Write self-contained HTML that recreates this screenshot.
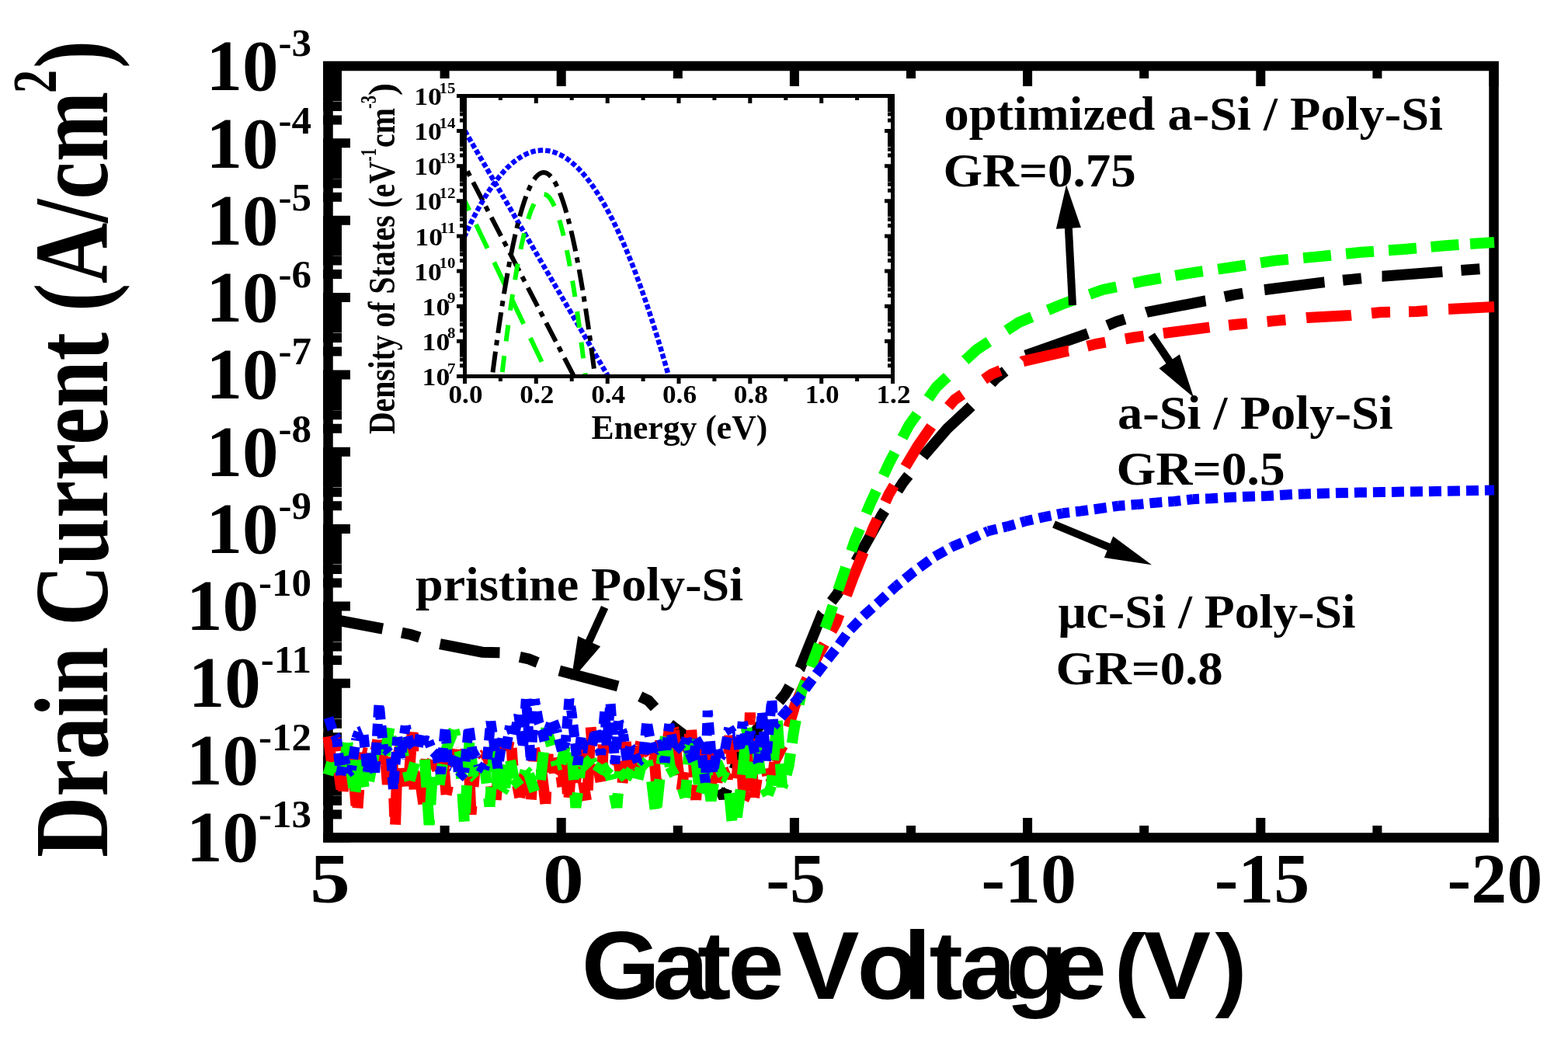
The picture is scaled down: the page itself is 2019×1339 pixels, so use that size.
<!DOCTYPE html><html><head><meta charset="utf-8"><style>html,body{margin:0;padding:0;background:#fff;overflow:hidden;width:2019px;height:1339px;}svg{display:block;}</style></head><body>
<svg width="2019" height="1339" viewBox="0 0 2019 1339">
<rect width="2019" height="1339" fill="#fff"/>
<defs><clipPath id="cm"><rect x="429" y="91" width="1488" height="982"/></clipPath><clipPath id="ci"><rect x="601" y="126" width="546" height="356"/></clipPath></defs>
<rect x="422.5" y="85" width="1501" height="993.5" fill="none" stroke="#000" stroke-width="12.5"/>
<path d="M416 1078.5 H451 M416 1048.6 H440 M416 1031.1 H440 M416 1018.7 H440 M416 1009.1 H440 M416 1001.2 H440 M416 994.5 H440 M416 988.8 H440 M416 983.7 H440 M416 979.1 H451 M416 949.2 H440 M416 931.7 H440 M416 919.3 H440 M416 909.7 H440 M416 901.8 H440 M416 895.2 H440 M416 889.4 H440 M416 884.3 H440 M416 879.8 H451 M416 849.9 H440 M416 832.4 H440 M416 820.0 H440 M416 810.4 H440 M416 802.5 H440 M416 795.8 H440 M416 790.1 H440 M416 785.0 H440 M416 780.4 H451 M416 750.5 H440 M416 733.0 H440 M416 720.6 H440 M416 711.0 H440 M416 703.1 H440 M416 696.5 H440 M416 690.7 H440 M416 685.6 H440 M416 681.1 H451 M416 651.2 H440 M416 633.7 H440 M416 621.3 H440 M416 611.7 H440 M416 603.8 H440 M416 597.1 H440 M416 591.4 H440 M416 586.3 H440 M416 581.8 H451 M416 551.8 H440 M416 534.3 H440 M416 521.9 H440 M416 512.3 H440 M416 504.4 H440 M416 497.8 H440 M416 492.0 H440 M416 486.9 H440 M416 482.4 H451 M416 452.5 H440 M416 435.0 H440 M416 422.6 H440 M416 413.0 H440 M416 405.1 H440 M416 398.4 H440 M416 392.7 H440 M416 387.6 H440 M416 383.0 H451 M416 353.1 H440 M416 335.6 H440 M416 323.2 H440 M416 313.6 H440 M416 305.7 H440 M416 299.1 H440 M416 293.3 H440 M416 288.2 H440 M416 283.7 H451 M416 253.8 H440 M416 236.3 H440 M416 223.9 H440 M416 214.3 H440 M416 206.4 H440 M416 199.7 H440 M416 194.0 H440 M416 188.9 H440 M416 184.3 H451 M416 154.4 H440 M416 136.9 H440 M416 124.5 H440 M416 114.9 H440 M416 107.0 H440 M416 100.4 H440 M416 94.6 H440 M416 89.5 H440 M416 85.0 H451 M422.5 1084 V1053 M422.5 79 V111 M722.7 1084 V1053 M722.7 79 V111 M1022.9 1084 V1053 M1022.9 79 V111 M1323.1 1084 V1053 M1323.1 79 V111 M1623.3 1084 V1053 M1623.3 79 V111 M1923.5 1084 V1053 M1923.5 79 V111 M572.6 1084 V1063 M572.6 79 V101 M872.8 1084 V1063 M872.8 79 V101 M1173.0 1084 V1063 M1173.0 79 V101 M1473.2 1084 V1063 M1473.2 79 V101 M1773.4 1084 V1063 M1773.4 79 V101" stroke="#000" stroke-width="12" fill="none"/>
<g>
<path d="M422.5 796.3 L429.0 797.5 L492.8 809.5 M517.3 814.6 L529.0 817.0 L540.4 820.7 M566.5 829.2 L621.0 839.7 L643.5 840.2 M669.3 845.9 L681.0 848.5 L692.2 852.9 M720.3 863.6 L758.0 873.5 L795.7 883.6 M824.2 896.8 L835.0 902.0 L843.0 910.9 M862.7 932.5 L888.0 952.0 L912.0 985.0 L914.3 989.8 M926.8 1016.2 L932.0 1027.0 L936.1 1015.7 M945.5 990.3 L950.0 978.0 L970.0 945.0 L986.2 924.3 M1003.2 903.3 L1010.8 894.0 L1016.8 883.6 M1030.1 860.5 L1030.2 860.4 L1058.6 790.2 L1058.7 790.1 M1070.6 774.5 L1078.0 764.8 L1083.9 754.5 M1102.0 722.7 L1114.4 700.9 L1135.7 662.8 L1139.1 657.6 M1155.9 631.7 L1162.6 621.3 L1169.8 612.1 M1188.6 588.0 L1190.6 585.5 L1219.7 551.9 L1250.2 523.4 L1250.6 523.0 M1276.3 493.7 L1281.6 487.6 L1294.2 477.9 M1320.6 457.6 L1400.8 429.4 M1425.9 419.0 L1437.0 414.4 L1448.4 410.8 M1475.9 402.2 L1476.5 402.0 L1551.8 387.4 L1552.5 387.3 M1576.9 382.1 L1588.6 379.6 L1600.4 377.7 M1628.1 373.1 L1629.0 373.0 L1704.5 363.4 L1705.5 363.3 M1729.1 360.8 L1741.0 359.6 L1752.9 358.4 M1779.5 355.7 L1779.8 355.7 L1855.0 349.9 L1857.3 349.7 M1881.4 348.0 L1905.4 346.3" fill="none" stroke="#000" stroke-width="14" stroke-linejoin="miter" stroke-miterlimit="2"/>
<path d="M422.5 948.2 L428.1 989.8 M428.1 989.8 L428.9 980.9 M431.2 956.0 L431.7 949.8 M431.7 949.8 L433.4 967.4 M436.0 992.3 L439.3 1016.1 M441.8 1019.1 L443.9 977.3 M443.9 977.3 L450.3 976.3 M450.3 976.3 L453.8 988.4 M456.5 1013.2 L458.5 1037.1 M460.5 1040.5 L462.2 1016.5 M464.1 991.6 L466.2 968.6 M466.2 968.6 L472.1 969.9 M472.1 969.9 L475.8 995.7 M475.8 995.7 L478.0 990.4 M483.7 966.1 L486.4 952.7 M486.4 952.7 L487.5 963.0 M490.3 984.8 L494.8 961.2 M496.9 984.8 L498.9 1010.0 M498.9 1010.0 L503.5 974.6 M505.4 978.4 L506.3 1002.4 M507.3 1027.4 L508.2 1051.4 M509.1 1061.8 L511.0 1000.8 M511.7 975.8 L511.8 974.1 M511.8 974.1 L516.4 958.2 M516.4 958.2 L516.9 963.8 M518.8 988.7 L520.7 1012.7 M525.8 1003.1 L526.9 998.9 M526.9 998.9 L530.7 942.4 M531.8 943.5 L532.3 967.5 M532.9 992.5 L533.5 1016.5 M537.3 1004.5 L539.4 994.3 M539.4 994.3 L545.3 1035.3 M545.3 1035.3 L545.8 1026.1 M547.2 1001.2 L548.6 977.2 M555.6 981.8 L557.0 978.6 M557.0 978.6 L563.3 991.0 M563.3 991.0 L564.9 984.5 M570.5 973.7 L574.6 1023.2 M574.6 1023.2 L577.0 1012.1 M581.6 987.5 L585.1 964.0 M585.1 964.0 L585.2 964.2 M589.3 982.2 L593.3 972.0 M593.3 972.0 L597.2 969.8 M597.2 969.8 L603.3 971.4 M603.3 971.4 L603.4 973.7 M604.4 998.6 L606.5 1048.6 M606.5 1048.6 L607.4 1037.7 M609.5 1012.8 L611.2 993.4 M611.2 993.4 L612.2 989.0 M619.7 970.6 L621.8 972.5 M621.8 972.5 L624.2 970.7 M624.2 970.7 L629.0 977.7 M629.0 977.7 L629.9 987.3 M632.3 1012.2 L633.5 1024.7 M633.5 1024.7 L638.7 1030.0 M638.7 1030.0 L642.0 989.2 M646.4 964.6 L647.4 959.8 M647.4 959.8 L653.2 965.1 M653.2 965.1 L655.7 954.1 M658.7 963.0 L660.1 983.5 M660.1 983.5 L660.9 986.9 M666.2 1011.3 L666.4 1012.2 M666.4 1012.2 L669.3 1026.8 M669.3 1026.8 L675.7 995.7 M675.7 995.7 L677.1 1009.1 M683.9 1029.5 L685.3 1005.6 M686.8 980.6 L687.8 963.4 M687.8 963.4 L689.5 970.0 M697.0 990.1 L702.4 1035.0 M702.4 1035.0 L703.2 1019.2 M704.5 994.3 L705.8 970.3 M711.0 975.5 L711.1 975.6 M711.1 975.6 L713.8 995.6 M713.8 995.6 L715.7 992.4 M722.6 1000.2 L724.3 1013.0 M724.3 1013.0 L727.7 969.0 M727.7 969.0 L727.9 973.1 M729.4 998.0 L730.8 1022.0 M732.5 1027.1 L734.3 1003.2 M736.2 978.2 L736.3 976.6 M736.3 976.6 L741.1 1008.0 M741.1 1008.0 L743.5 980.6 M745.6 958.3 L748.2 982.2 M751.0 1007.0 L755.0 1030.7 M756.8 1017.4 L759.5 956.5 M760.7 936.2 L762.6 960.1 M769.5 983.2 L773.5 1006.9 M775.4 996.5 L776.7 958.4 M776.7 958.4 L783.1 960.4 M783.1 960.4 L786.5 957.5 M786.5 957.5 L788.3 969.0 M793.1 987.2 L796.6 980.0 M796.6 980.0 L798.7 995.8 M801.5 1008.2 L803.5 984.3 M805.4 959.4 L805.8 955.1 M805.8 955.1 L810.0 1000.8 M810.0 1000.8 L811.6 990.2 M815.4 969.8 L818.6 993.6 M821.7 978.8 L824.0 960.4 M824.0 960.4 L825.3 955.1 M832.1 963.6 L832.2 963.9 M832.2 963.9 L836.9 971.8 M836.9 971.8 L842.3 973.3 M842.3 973.3 L845.2 1010.6 M845.2 1010.6 L846.0 1002.1 M848.3 977.2 L850.4 953.3 M858.6 961.1 L862.0 937.3 M867.1 937.1 L867.9 940.0 M867.9 940.0 L872.5 985.0 M872.5 985.0 L874.2 997.7 M877.6 1017.5 L880.2 997.5 M880.2 997.5 L880.9 993.7 M885.6 969.1 L888.0 945.3 M890.2 939.6 L894.2 1000.5 M895.8 1025.5 L896.1 1030.0 M896.1 1030.0 L897.4 1010.6 M899.1 985.7 L900.6 965.0 M900.6 965.0 L901.6 961.9 M910.5 968.8 L913.8 965.1 M913.8 965.1 L916.9 1021.0 M923.4 1007.8 L925.6 983.9 M930.8 989.0 L931.9 992.9 M931.9 992.9 L936.7 1003.8 M936.7 1003.8 L937.1 995.8 M938.3 970.8 L939.4 946.7 M939.4 946.7 L942.9 983.3 M948.5 1002.3 L950.7 978.4 M953.0 953.5 L953.5 948.7 M953.5 948.7 L954.4 967.9 M955.7 992.9 L957.5 1030.0 M957.5 1030.0 L962.4 1019.2 M962.4 1019.2 L962.8 1007.2 M963.6 982.2 L964.5 958.3 M965.3 933.3 L965.9 917.5 M965.9 917.5 L966.2 925.8 M967.1 950.8 L969.5 1011.7 M971.0 1026.9 L974.6 1003.2 M978.4 978.4 L981.3 959.8 M981.3 959.8 L982.4 964.8 M986.7 989.4 L988.2 998.8 M988.2 998.8 L994.9 1001.6 M994.9 1001.6 L997.3 981.1 M997.3 981.1 L1008.0 960.0 M1015.3 936.1 L1022.2 913.1" fill="none" stroke="#ff0000" stroke-width="14" stroke-linejoin="miter" stroke-miterlimit="2"/>
<path d="M1865.0 398.0 L1924.0 395.0 M1814.0 401.2 L1824.0 401.0 L1838.0 400.0 M1766.1 403.2 L1778.0 402.0 L1790.0 401.7 M1682.0 409.1 L1683.0 409.0 L1739.0 406.0 L1740.0 405.9 M1631.6 414.0 L1642.7 412.9 L1655.4 411.7 M1582.1 418.8 L1594.0 417.5 L1605.9 416.4 M1497.9 429.1 L1557.5 421.4 M1449.0 436.3 L1459.4 434.5 L1472.7 432.6 M1400.0 445.7 L1411.6 442.8 L1423.4 440.7 M1317.4 465.3 L1317.5 465.2 L1375.7 451.7 L1375.8 451.7 M1267.1 488.4 L1277.0 481.6 L1288.1 477.1 M1221.4 523.5 L1229.3 514.5 L1239.2 507.7 M1165.7 601.0 L1181.7 574.3 L1199.3 548.9 M1139.9 646.3 L1144.7 635.9 L1151.1 625.2 M1120.1 690.4 L1124.5 679.6 L1129.7 668.4 M1089.9 766.6 L1099.0 742.4 L1111.8 710.8 M1070.7 812.5 L1076.5 802.0 L1080.7 790.8 M1049.9 850.1 L1050.0 850.0 L1061.5 829.1 M1016.3 928.9 L1024.2 906.7 L1039.3 873.5" fill="none" stroke="#ff0000" stroke-width="14" stroke-linejoin="miter" stroke-miterlimit="2"/>
<path d="M422.5 997.7 L427.1 981.6 M427.1 981.6 L432.0 994.9 M440.6 988.5 L442.6 984.9 M442.6 984.9 L447.5 956.5 M447.5 956.5 L447.9 959.6 M450.4 978.7 L455.2 1014.4 M457.6 1019.6 L461.7 983.8 M464.0 977.8 L468.6 1013.5 M475.1 1005.9 L481.9 970.6 M495.6 972.6 L501.4 937.1 M507.5 953.0 L508.8 956.9 M508.8 956.9 L513.9 951.0 M513.9 951.0 L519.1 970.0 M519.1 970.0 L520.1 974.4 M524.7 993.1 L527.6 1005.0 M527.6 1005.0 L534.0 982.1 M546.9 977.7 L549.3 1013.6 M550.6 1032.8 L552.6 1062.0 M552.6 1062.0 L553.1 1055.2 M554.3 1036.0 L556.7 1000.1 M561.8 1002.2 L565.6 1010.4 M565.6 1010.4 L569.8 983.8 M574.4 965.1 L577.7 956.6 M577.7 956.6 L584.5 939.7 M584.5 939.7 L586.7 948.0 M591.6 966.6 L591.9 967.5 M591.9 967.5 L594.2 1002.5 M595.5 1021.8 L597.9 1057.7 M599.0 1047.0 L601.2 1011.1 M602.3 991.8 L604.4 955.9 M606.2 967.7 L609.4 999.6 M609.4 999.6 L612.2 1002.4 M620.5 995.8 L623.6 984.5 M623.6 984.5 L626.7 1008.6 M629.2 1027.7 L630.5 1038.5 M630.5 1038.5 L632.5 1013.4 M634.0 994.1 L636.6 959.6 M636.6 959.6 L636.7 961.0 M638.3 980.3 L641.3 1016.1 M646.7 1019.7 L650.2 1014.1 M650.2 1014.1 L654.2 985.0 M657.2 979.1 L661.8 1002.4 M661.8 1002.4 L669.3 1012.1 M675.1 997.5 L676.6 991.8 M676.6 991.8 L680.8 996.1 M680.8 996.1 L688.3 1019.1 M696.0 1004.2 L699.9 968.4 M702.0 949.2 L703.4 937.3 M703.4 937.3 L708.8 955.8 M708.8 955.8 L710.1 960.3 M715.2 979.0 L716.9 985.3 M716.9 985.3 L722.4 983.9 M722.4 983.9 L727.9 960.7 M736.4 968.4 L738.9 1004.3 M740.3 1023.6 L741.4 1040.0 M741.4 1040.0 L743.8 1020.6 M746.0 1001.4 L747.5 989.3 M747.5 989.3 L754.5 983.4 M754.5 983.4 L761.2 977.1 M761.2 977.1 L762.7 982.3 M768.7 994.3 L775.3 984.2 M775.3 984.2 L779.4 992.0 M779.4 992.0 L785.5 997.4 M785.5 997.4 L787.0 1004.1 M790.9 1023.0 L794.4 1040.0 M794.4 1040.0 L795.8 1021.4 M797.3 1002.2 L797.9 993.1 M797.9 993.1 L805.9 1002.5 M805.9 1002.5 L813.4 990.8 M813.4 990.8 L813.7 991.5 M821.4 1003.4 L825.0 988.4 M825.0 988.4 L833.4 979.2 M833.4 979.2 L835.2 987.1 M839.1 1006.0 L843.5 1041.8 M845.7 1039.1 L849.4 1003.3 M851.5 984.1 L856.8 948.5 M859.5 964.2 L862.8 987.3 M862.8 987.3 L868.8 998.5 M878.7 1014.9 L882.3 1027.1 M882.3 1027.1 L884.3 1004.0 M885.9 984.7 L888.7 952.3 M888.7 952.3 L889.6 955.7 M894.2 974.5 L896.9 985.3 M896.9 985.3 L899.8 1010.0 M902.6 1021.4 L910.5 992.6 M910.5 992.6 L911.3 998.7 M913.7 1017.9 L915.5 1031.3 M915.5 1031.3 L918.8 1009.0 M921.7 989.9 L923.1 980.8 M923.1 980.8 L930.9 999.0 M930.9 999.0 L937.2 1001.9 M939.1 1021.1 L942.5 1057.0 M948.8 1052.4 L953.6 1016.7 M956.0 997.6 L959.3 961.7 M961.0 942.5 L961.5 937.0 M961.5 937.0 L964.2 967.3 M965.9 986.6 L967.3 1001.7 M967.3 1001.7 L970.8 981.2 M974.0 962.2 L974.1 961.6 M974.1 961.6 L979.5 996.5 M984.3 1015.0 L988.8 1023.6 M988.8 1023.6 L993.3 1011.6 M993.3 1011.6 L994.4 998.1 M996.1 978.9 L999.2 943.0 M1000.8 928.1 L1003.4 964.0 M1004.8 983.2 L1007.1 1013.6 M1007.1 1013.6 L1009.0 1008.4 M1014.5 989.9 L1016.0 984.0" fill="none" stroke="#00ff00" stroke-width="14" stroke-linejoin="miter" stroke-miterlimit="2"/>
<path d="M1893.0 314.1 L1924.0 312.0 M1842.5 317.9 L1861.0 316.3 L1878.4 315.1 M1788.0 322.3 L1807.0 321.0 L1823.9 319.5 M1733.1 326.8 L1752.8 324.8 L1769.0 323.7 M1678.1 332.1 L1694.8 330.6 L1713.9 328.7 M1623.2 338.3 L1640.7 335.6 L1658.9 333.9 M1568.2 346.6 L1586.6 344.0 L1603.8 341.3 M1513.3 354.8 L1530.6 351.8 L1548.8 349.3 M1459.4 364.7 L1474.6 361.5 L1494.7 358.0 M1403.0 379.0 L1420.0 373.0 L1437.6 369.3 M1349.4 399.3 L1366.7 392.0 L1382.9 386.2 M1296.1 425.3 L1312.0 415.0 L1328.7 408.0 M1242.7 463.9 L1257.7 450.0 L1273.3 439.9 M1195.4 512.8 L1206.0 498.0 L1219.8 485.2 M1162.0 563.6 L1170.5 547.4 L1180.8 533.0 M1137.5 612.2 L1144.7 596.7 L1152.1 582.6 M1115.3 661.0 L1121.2 647.0 L1128.3 631.8 M1096.2 709.5 L1101.0 695.3 L1107.2 680.6 M1079.2 759.7 L1084.0 745.4 L1089.1 730.4 M1062.3 809.0 L1067.5 794.7 L1072.5 779.8 M1044.2 858.5 L1049.6 844.0 L1054.9 829.4 M1028.8 907.0 L1031.7 891.8 L1037.1 877.3 M1019.9 956.8 L1022.0 942.0 L1024.8 927.3 M1012.6 997.6 L1016.0 984.0 L1018.0 970.1" fill="none" stroke="#00ff00" stroke-width="14" stroke-linejoin="miter" stroke-miterlimit="2"/>
<path d="M423.0 923.9 L427.9 939.2 M431.2 946.4 L433.7 951.1 M433.7 951.1 L434.8 961.7 M435.7 969.7 L437.4 985.6 M438.2 993.6 L438.7 998.1 M438.7 998.1 L440.6 986.8 M442.0 978.9 L442.9 973.8 M442.9 973.8 L445.1 984.4 M446.8 992.2 L447.5 995.5 M447.5 995.5 L452.3 991.6 M452.3 991.6 L453.3 985.2 M454.6 977.3 L457.1 961.5 M458.4 953.6 L458.8 950.8 M458.8 950.8 L461.9 942.4 M461.9 942.4 L465.8 940.8 M468.1 946.3 L469.8 962.2 M470.7 970.2 L472.3 986.1 M473.2 994.1 L473.2 994.2 M473.2 994.2 L475.9 978.6 M477.2 970.7 L477.3 970.4 M477.3 970.4 L480.7 985.7 M482.4 993.5 L482.7 994.6 M482.7 994.6 L483.6 979.8 M484.0 971.8 L485.0 955.8 M485.5 947.8 L486.4 931.8 M486.9 923.9 L487.9 907.9 M488.6 910.6 L490.1 926.5 M490.9 934.4 L492.5 950.4 M493.3 958.3 L493.9 965.0 M493.9 965.0 L496.9 964.4 M496.9 964.4 L501.0 969.1 M503.6 976.2 L504.7 992.2 M505.3 1000.2 L506.4 1016.1 M506.4 1016.1 L506.4 1016.0 M507.0 1008.1 L508.3 992.1 M509.0 984.2 L510.3 968.2 M510.9 960.2 L511.8 948.9 M511.8 948.9 L512.5 953.5 M513.7 961.4 L516.0 976.8 M516.0 976.8 L516.1 976.4 M517.2 968.4 L519.5 952.6 M520.7 944.7 L522.2 934.4 M522.2 934.4 L523.4 939.9 M525.1 947.8 L526.6 954.3 M526.6 954.3 L532.2 961.7 M538.4 961.7 L541.2 946.0 M544.9 950.3 L546.4 952.7 M546.4 952.7 L551.8 954.1 M551.8 954.1 L554.5 961.1 M558.0 968.1 L562.4 972.3 M562.4 972.3 L564.4 982.0 M566.1 989.8 L567.4 996.2 M567.4 996.2 L568.4 986.7 M569.1 978.7 L570.7 962.8 M571.5 954.9 L573.1 938.9 M573.7 941.3 L574.9 957.2 M575.5 965.2 L576.6 981.2 M580.7 986.5 L582.1 987.0 M582.1 987.0 L587.6 973.6 M588.9 977.7 L590.3 993.6 M591.0 1001.6 L591.0 1001.6 M591.0 1001.6 L597.6 994.5 M597.6 994.5 L598.3 988.2 M599.1 980.3 L600.7 964.3 M601.5 956.4 L603.1 940.5 M604.0 937.8 L606.3 953.6 M607.4 961.5 L608.1 966.5 M608.1 966.5 L612.8 975.0 M612.8 975.0 L613.2 976.2 M615.5 983.9 L616.1 986.0 M616.1 986.0 L623.2 990.4 M623.2 990.4 L624.9 985.2 M627.4 977.6 L628.8 961.7 M629.5 953.7 L631.0 937.8 M631.7 929.8 L631.8 928.6 M631.8 928.6 L634.0 943.2 M635.2 951.1 L637.6 967.0 M638.8 974.9 L641.1 989.2 M641.1 989.2 L641.3 987.7 M642.5 979.8 L645.0 964.0 M646.3 956.1 L647.2 950.4 M647.2 950.4 L649.8 960.2 M651.6 964.3 L654.2 948.5 M655.6 940.6 L656.6 934.5 M656.6 934.5 L660.0 943.8 M662.4 946.0 L665.7 930.3 M667.4 922.5 L667.9 920.1 M667.9 920.1 L669.6 933.5 M670.7 941.4 L672.8 957.3 M673.6 960.5 L674.6 944.5 M675.1 936.6 L676.1 920.6 M676.5 912.6 L677.3 900.0 M677.3 900.0 L677.6 903.4 M678.2 911.3 L679.4 927.3 M680.0 935.3 L681.3 951.2 M681.9 959.2 L683.1 975.1 M683.7 979.5 L684.6 963.5 M685.1 955.6 L686.0 939.6 M686.4 931.6 L687.4 915.6 M687.8 907.6 L688.3 900.0 M688.3 900.0 L689.7 908.2 M691.2 916.1 L693.6 929.3 M693.6 929.3 L694.5 931.7 M697.3 939.2 L697.9 940.6 M697.9 940.6 L701.3 954.4 M701.3 954.4 L701.4 954.1 M704.0 946.5 L706.8 938.2 M706.8 938.2 L709.5 931.5 M712.4 928.6 L716.6 939.7 M716.6 939.7 L717.6 943.8 M719.5 951.5 L723.5 967.0 M725.9 961.9 L728.3 954.7 M728.3 954.7 L729.0 946.3 M729.7 938.3 L731.1 922.4 M731.8 914.4 L733.0 900.0 M733.0 900.0 L733.3 901.5 M734.7 909.4 L736.0 916.8 M736.0 916.8 L737.0 925.2 M737.9 933.2 L739.7 949.1 M740.6 957.0 L742.4 972.9 M743.3 980.9 L743.7 984.8 M743.7 984.8 L745.2 972.9 M746.2 965.0 L748.2 949.1 M749.4 953.2 L751.1 963.2 M751.1 963.2 L756.9 963.9 M762.1 959.8 L765.8 944.2 M767.5 940.6 L770.6 956.3 M772.1 964.2 L773.6 972.0 M773.6 972.0 L774.3 964.1 M775.1 956.1 L776.5 940.2 M777.3 932.2 L778.7 916.3 M779.2 920.1 L779.9 936.1 M780.3 944.1 L781.0 959.6 M781.0 959.6 L781.1 959.1 M781.8 951.1 L783.3 935.2 M784.0 927.2 L785.4 911.3 M786.1 906.3 L787.3 922.3 M788.0 930.3 L789.2 946.2 M789.8 954.2 L791.0 970.1 M791.6 978.1 L792.0 983.3 M792.0 983.3 L792.8 972.4 M793.5 964.5 L794.8 948.5 M795.4 940.5 L796.4 928.4 M796.4 928.4 L797.7 932.1 M800.4 939.6 L802.5 945.4 M802.5 945.4 L803.9 955.1 M805.0 963.0 L807.2 978.9 M808.8 973.6 L811.6 961.4 M811.6 961.4 L813.5 964.4 M817.3 971.4 L821.4 981.4 M821.4 981.4 L825.3 977.9 M828.8 971.3 L830.3 955.4 M831.1 947.4 L832.6 931.5 M833.7 932.7 L836.5 948.4 M838.5 956.2 L842.0 969.2 M842.0 969.2 L843.2 967.0 M846.9 959.9 L847.1 959.7 M847.1 959.7 L853.5 957.6 M853.5 957.6 L854.4 966.5 M855.3 974.5 L856.0 982.0 M856.0 982.0 L857.0 973.5 M857.9 965.6 L859.8 949.7 M860.7 941.7 L861.8 931.9 M861.8 931.9 L862.9 937.9 M864.4 945.7 L867.2 961.5 M869.3 964.2 L871.5 959.3 M871.5 959.3 L878.9 966.1 M878.9 966.1 L879.1 965.6 M881.5 957.9 L883.9 950.1 M883.9 950.1 L885.5 957.7 M887.1 965.6 L887.9 969.5 M887.9 969.5 L892.7 980.5 M894.0 976.1 L895.3 960.1 M896.0 952.2 L896.1 951.2 M896.1 951.2 L902.5 961.9 M902.5 961.9 L902.9 964.5 M903.9 972.4 L905.9 988.3 M906.9 996.2 L908.4 1007.7 M908.4 1007.7 L908.5 1003.2 M908.8 995.2 L909.2 979.2 M909.5 971.3 L910.0 955.3 M910.2 947.3 L910.7 931.3 M911.0 923.3 L911.2 914.8 M911.2 914.8 L911.9 922.4 M912.5 930.4 L913.8 946.3 M914.5 954.3 L915.8 970.2 M916.4 978.2 L917.7 994.2 M919.1 989.2 L922.0 973.5 M923.5 965.6 L923.6 965.0 M923.6 965.0 L927.3 975.3 M927.3 975.3 L929.8 971.6 M933.6 964.7 L936.5 949.0 M937.9 941.1 L938.7 936.9 M938.7 936.9 L943.0 943.7 M943.0 943.7 L946.6 943.5 M949.6 949.1 L951.8 964.9 M952.8 962.3 L954.5 946.4 M955.3 938.4 L956.3 929.2 M956.3 929.2 L957.5 935.8 M958.8 943.7 L961.6 959.5 M963.4 952.6 L966.1 941.7 M966.1 941.7 L967.1 946.4 M968.7 954.2 L972.0 969.9 M974.7 977.4 L976.5 981.6 M976.5 981.6 L977.3 970.3 M977.9 962.3 L979.1 946.4 M979.7 938.4 L980.8 922.4 M981.4 917.6 L982.7 933.6 M983.3 941.6 L984.6 957.5 M985.3 965.5 L986.4 979.6 M986.4 979.6 L986.6 977.7 M987.3 969.7 L988.8 953.8 M989.5 945.8 L991.0 929.9 M991.7 921.9 L993.2 906.0 M993.9 902.0 L994.9 918.0 M995.4 925.9 L996.0 935.0 M996.0 935.0 L1000.5 929.7 M1005.6 923.6 L1012.3 915.7 M1012.3 915.7 L1016.2 911.6 M1021.7 905.8 L1028.7 898.5 M1028.7 898.5 L1032.2 893.7 M1036.8 887.2 L1044.4 876.8 M1044.4 876.8 L1046.3 874.3 M1051.1 868.0 L1060.8 855.2 M1065.7 848.9 L1075.7 836.4 M1080.4 830.0 L1089.8 817.0 M1094.8 810.7 L1105.9 799.2 M1111.4 793.4 L1111.6 793.2 M1111.6 793.2 L1123.3 782.7 M1129.2 777.3 L1134.0 773.0 M1134.0 773.0 L1141.0 766.5 M1146.9 761.1 L1154.2 754.4 M1154.2 754.4 L1158.9 750.6 M1165.1 745.5 L1177.2 735.6 M1177.2 735.6 L1177.5 735.4 M1184.0 730.7 L1196.9 721.3 M1203.5 716.7 L1217.4 708.8 M1224.3 704.8 L1225.4 704.2 M1225.4 704.2 L1239.0 698.5 M1246.4 695.5 L1248.7 694.5 M1248.7 694.5 L1261.0 688.9 M1268.3 685.6 L1272.5 683.7 M1272.5 683.7 L1283.6 681.0 M1291.3 679.1 L1296.4 677.9 M1296.4 677.9 L1306.8 674.9 M1314.5 672.7 L1320.3 671.0 M1320.3 671.0 L1330.0 668.8 M1337.8 667.1 L1344.2 665.6 M1344.2 665.6 L1353.4 663.8 M1361.3 662.2 L1368.2 660.8 M1368.2 660.8 L1377.1 659.8 M1385.0 658.8 L1392.0 658.0 M1392.0 658.0 L1400.9 656.8 M1408.8 655.7 L1416.0 654.7 M1416.0 654.7 L1424.7 653.5 M1432.6 652.4 L1440.0 651.3 M1440.0 651.3 L1448.5 650.7 M1456.5 650.1 L1463.9 649.6 M1463.9 649.6 L1472.4 648.7 M1480.4 647.9 L1487.8 647.2 M1487.8 647.2 L1496.3 646.6 M1504.3 646.0 L1511.7 645.5 M1511.7 645.5 L1520.2 644.5 M1528.2 643.6 L1535.6 642.7 M1535.6 642.7 L1544.1 642.3 M1552.1 642.0 L1559.5 641.7 M1559.5 641.7 L1568.1 641.2 M1576.1 640.7 L1583.5 640.3 M1583.5 640.3 L1592.0 639.9 M1600.0 639.6 L1607.4 639.3 M1607.4 639.3 L1616.0 639.0 M1624.0 638.8 L1632.0 638.5 M1632.0 638.5 L1640.0 638.0 M1648.0 637.5 L1656.0 637.0 M1656.0 637.0 L1663.9 636.6 M1671.9 636.3 L1680.0 635.9 M1680.0 635.9 L1687.9 635.7 M1695.9 635.5 L1711.9 635.0 M1719.9 634.8 L1735.9 634.4 M1743.9 634.2 L1750.0 634.0 M1750.0 634.0 L1759.9 633.9 M1767.9 633.7 L1783.9 633.5 M1791.9 633.4 L1807.9 633.1 M1815.9 633.0 L1831.9 632.8 M1839.9 632.7 L1850.0 632.5 M1850.0 632.5 L1855.9 632.4 M1863.9 632.2 L1879.9 631.9 M1887.9 631.7 L1903.9 631.4 M1911.9 631.2 L1924.0 631.0" fill="none" stroke="#0000ff" stroke-width="13" stroke-linejoin="miter" stroke-miterlimit="2"/>
</g>
<text x="401" y="116.2" text-anchor="end" font-family='"Liberation Serif", "Times New Roman", serif' font-weight="bold" font-size="93">10<tspan dy="-44" font-size="51">-3</tspan></text>
<text x="401" y="215.5" text-anchor="end" font-family='"Liberation Serif", "Times New Roman", serif' font-weight="bold" font-size="93">10<tspan dy="-44" font-size="51">-4</tspan></text>
<text x="401" y="314.8" text-anchor="end" font-family='"Liberation Serif", "Times New Roman", serif' font-weight="bold" font-size="93">10<tspan dy="-44" font-size="51">-5</tspan></text>
<text x="401" y="414.0" text-anchor="end" font-family='"Liberation Serif", "Times New Roman", serif' font-weight="bold" font-size="93">10<tspan dy="-44" font-size="51">-6</tspan></text>
<text x="401" y="513.3" text-anchor="end" font-family='"Liberation Serif", "Times New Roman", serif' font-weight="bold" font-size="93">10<tspan dy="-44" font-size="51">-7</tspan></text>
<text x="401" y="612.6" text-anchor="end" font-family='"Liberation Serif", "Times New Roman", serif' font-weight="bold" font-size="93">10<tspan dy="-44" font-size="51">-8</tspan></text>
<text x="401" y="711.9" text-anchor="end" font-family='"Liberation Serif", "Times New Roman", serif' font-weight="bold" font-size="93">10<tspan dy="-44" font-size="51">-9</tspan></text>
<text x="401" y="811.2" text-anchor="end" font-family='"Liberation Serif", "Times New Roman", serif' font-weight="bold" font-size="93">10<tspan dy="-44" font-size="51">-10</tspan></text>
<text x="401" y="910.4" text-anchor="end" font-family='"Liberation Serif", "Times New Roman", serif' font-weight="bold" font-size="93">10<tspan dy="-44" font-size="51">-11</tspan></text>
<text x="401" y="1009.7" text-anchor="end" font-family='"Liberation Serif", "Times New Roman", serif' font-weight="bold" font-size="93">10<tspan dy="-44" font-size="51">-12</tspan></text>
<text x="401" y="1109.0" text-anchor="end" font-family='"Liberation Serif", "Times New Roman", serif' font-weight="bold" font-size="93">10<tspan dy="-44" font-size="51">-13</tspan></text>
<text transform="translate(424.9 1162) scale(1.12 1)" text-anchor="middle" font-family='"Liberation Serif", "Times New Roman", serif' font-weight="bold" font-size="92">5</text>
<text transform="translate(725.4 1162) scale(1.15 1)" text-anchor="middle" font-family='"Liberation Serif", "Times New Roman", serif' font-weight="bold" font-size="92">0</text>
<text transform="translate(1024.6 1162) scale(1 1)" text-anchor="middle" font-family='"Liberation Serif", "Times New Roman", serif' font-weight="bold" font-size="92">-5</text>
<text transform="translate(1324.8 1162) scale(1 1)" text-anchor="middle" font-family='"Liberation Serif", "Times New Roman", serif' font-weight="bold" font-size="92">-10</text>
<text transform="translate(1625.0 1162) scale(1 1)" text-anchor="middle" font-family='"Liberation Serif", "Times New Roman", serif' font-weight="bold" font-size="92">-15</text>
<text transform="translate(1924.9 1162) scale(1 1)" text-anchor="middle" font-family='"Liberation Serif", "Times New Roman", serif' font-weight="bold" font-size="92">-20</text>
<text transform="translate(137.5 1104) rotate(-90)" font-family='"Liberation Serif", "Times New Roman", serif' font-weight="bold" font-size="135" textLength="986" lengthAdjust="spacingAndGlyphs">Drain Current (A/cm</text>
<text transform="translate(72 120) rotate(-90)" font-family='"Liberation Serif", "Times New Roman", serif' font-weight="bold" font-size="80" textLength="30" lengthAdjust="spacingAndGlyphs">2</text>
<text transform="translate(137.5 88) rotate(-90)" font-family='"Liberation Serif", "Times New Roman", serif' font-weight="bold" font-size="135" textLength="36" lengthAdjust="spacingAndGlyphs">)</text>
<text transform="scale(1.045 1)" x="716.6 804.1 859.4 896.8 950 975.9 1056.1 1112.9 1144.9 1182.5 1239.4 1294.2 1380" y="1286" font-family='"Liberation Sans", Arial, sans-serif' font-weight="bold" font-size="124.6">Gate Voltage <tspan x="1372.9" font-size="118">(</tspan><tspan x="1408.8">V</tspan><tspan x="1497.2" font-size="118">)</tspan></text>
<rect x="598.5" y="123.5" width="551" height="361" fill="#fff"/>
<g clip-path="url(#ci)">
<path d="M598.5 168.5 L800.0 513.5" fill="none" stroke="#0000ff" stroke-width="6.5" stroke-dasharray="6.5 3" stroke-dashoffset="0" stroke-linejoin="miter" stroke-miterlimit="2"/>
<path d="M598.5 214.0 L760.0 524.9" fill="none" stroke="#000" stroke-width="6" stroke-dasharray="27 8 7 9" stroke-dashoffset="27.761" stroke-linejoin="miter" stroke-miterlimit="2"/>
<path d="M598.5 258.8 L720.0 512.7" fill="none" stroke="#00ff00" stroke-width="6" stroke-dasharray="34 20" stroke-dashoffset="20.5663" stroke-linejoin="miter" stroke-miterlimit="2"/>
<path d="M590.0 323.0 L594.8 311.7 L599.7 300.9 L604.5 290.7 L609.3 281.0 L614.2 271.7 L619.0 263.0 L623.8 254.8 L628.7 247.1 L633.5 240.0 L638.3 233.3 L643.2 227.2 L648.0 221.6 L652.8 216.4 L657.7 211.8 L662.5 207.8 L667.3 204.2 L672.2 201.1 L677.0 198.6 L681.8 196.6 L686.7 195.0 L691.5 194.0 L696.3 193.6 L701.2 193.6 L706.0 194.1 L710.8 195.2 L715.7 196.7 L720.5 198.8 L725.3 201.4 L730.2 204.5 L735.0 208.2 L739.8 212.3 L744.7 216.9 L749.5 222.1 L754.3 227.8 L759.2 234.0 L764.0 240.7 L768.8 247.9 L773.7 255.7 L778.5 263.9 L783.3 272.7 L788.2 281.9 L793.0 291.7 L797.8 302.0 L802.7 312.9 L807.5 324.2 L812.3 336.0 L817.2 348.4 L822.0 361.3 L826.8 374.7 L831.7 388.6 L836.5 403.0 L841.3 417.9 L846.2 433.4 L851.0 449.3 L855.8 465.8 L860.7 482.8 L865.5 500.3 L870.3 518.3 L875.2 536.8 L880.0 555.9" fill="none" stroke="#0000ff" stroke-width="6.5" stroke-dasharray="6.5 3" stroke-dashoffset="0" stroke-linejoin="miter" stroke-miterlimit="2"/>
<path d="M625.0 559.5 L627.5 537.4 L630.0 516.0 L632.5 495.4 L635.0 475.5 L637.5 456.4 L640.0 438.0 L642.5 420.4 L645.0 403.5 L647.5 387.4 L650.0 372.0 L652.5 357.4 L655.0 343.5 L657.5 330.4 L660.0 318.0 L662.5 306.4 L665.0 295.5 L667.5 285.4 L670.0 276.0 L672.5 267.4 L675.0 259.5 L677.5 252.4 L680.0 246.0 L682.5 240.4 L685.0 235.5 L687.5 231.4 L690.0 228.0 L692.5 225.4 L695.0 223.5 L697.5 222.4 L700.0 222.0 L702.5 222.4 L705.0 223.5 L707.5 225.4 L710.0 228.0 L712.5 231.4 L715.0 235.5 L717.5 240.4 L720.0 246.0 L722.5 252.4 L725.0 259.5 L727.5 267.4 L730.0 276.0 L732.5 285.4 L735.0 295.5 L737.5 306.4 L740.0 318.0 L742.5 330.4 L745.0 343.5 L747.5 357.4 L750.0 372.0 L752.5 387.4 L755.0 403.5 L757.5 420.4 L760.0 438.0 L762.5 456.4 L765.0 475.5 L767.5 495.4 L770.0 516.0 L772.5 537.4 L775.0 559.5" fill="none" stroke="#000" stroke-width="6" stroke-dasharray="27 8 7 9" stroke-dashoffset="21.2952" stroke-linejoin="miter" stroke-miterlimit="2"/>
<path d="M640.0 541.6 L642.0 522.5 L644.0 504.0 L646.0 486.2 L648.0 469.0 L650.0 452.5 L652.0 436.6 L654.0 421.4 L656.0 406.8 L658.0 392.9 L660.0 379.6 L662.0 367.0 L664.0 355.0 L666.0 343.6 L668.0 332.9 L670.0 322.9 L672.0 313.5 L674.0 304.8 L676.0 296.7 L678.0 289.2 L680.0 282.4 L682.0 276.2 L684.0 270.7 L686.0 265.9 L688.0 261.7 L690.0 258.1 L692.0 255.2 L694.0 252.9 L696.0 251.3 L698.0 250.3 L700.0 250.0 L702.0 250.3 L704.0 251.3 L706.0 252.9 L708.0 255.2 L710.0 258.1 L712.0 261.7 L714.0 265.9 L716.0 270.7 L718.0 276.2 L720.0 282.4 L722.0 289.2 L724.0 296.7 L726.0 304.8 L728.0 313.5 L730.0 322.9 L732.0 332.9 L734.0 343.6 L736.0 355.0 L738.0 367.0 L740.0 379.6 L742.0 392.9 L744.0 406.8 L746.0 421.4 L748.0 436.6 L750.0 452.5 L752.0 469.0 L754.0 486.2 L756.0 504.0 L758.0 522.5 L760.0 541.6" fill="none" stroke="#00ff00" stroke-width="6" stroke-dasharray="21 19" stroke-dashoffset="17.0687" stroke-linejoin="miter" stroke-miterlimit="2"/>
</g>
<rect x="598.5" y="123.5" width="551" height="361" fill="none" stroke="#000" stroke-width="5"/>
<path d="M588 484.4 H598 M1149 484.4 H1139 M592 470.8 H598 M1149 470.8 H1143 M592 462.9 H598 M1149 462.9 H1143 M592 457.2 H598 M1149 457.2 H1143 M592 452.9 H598 M1149 452.9 H1143 M592 449.3 H598 M1149 449.3 H1143 M592 446.3 H598 M1149 446.3 H1143 M592 443.7 H598 M1149 443.7 H1143 M592 441.4 H598 M1149 441.4 H1143 M588 439.3 H598 M1149 439.3 H1139 M592 425.7 H598 M1149 425.7 H1143 M592 417.8 H598 M1149 417.8 H1143 M592 412.1 H598 M1149 412.1 H1143 M592 407.8 H598 M1149 407.8 H1143 M592 404.2 H598 M1149 404.2 H1143 M592 401.2 H598 M1149 401.2 H1143 M592 398.5 H598 M1149 398.5 H1143 M592 396.2 H598 M1149 396.2 H1143 M588 394.2 H598 M1149 394.2 H1139 M592 380.6 H598 M1149 380.6 H1143 M592 372.7 H598 M1149 372.7 H1143 M592 367.0 H598 M1149 367.0 H1143 M592 362.6 H598 M1149 362.6 H1143 M592 359.1 H598 M1149 359.1 H1143 M592 356.1 H598 M1149 356.1 H1143 M592 353.4 H598 M1149 353.4 H1143 M592 351.1 H598 M1149 351.1 H1143 M588 349.1 H598 M1149 349.1 H1139 M592 335.5 H598 M1149 335.5 H1143 M592 327.5 H598 M1149 327.5 H1143 M592 321.9 H598 M1149 321.9 H1143 M592 317.5 H598 M1149 317.5 H1143 M592 314.0 H598 M1149 314.0 H1143 M592 310.9 H598 M1149 310.9 H1143 M592 308.3 H598 M1149 308.3 H1143 M592 306.0 H598 M1149 306.0 H1143 M588 303.9 H598 M1149 303.9 H1139 M592 290.4 H598 M1149 290.4 H1143 M592 282.4 H598 M1149 282.4 H1143 M592 276.8 H598 M1149 276.8 H1143 M592 272.4 H598 M1149 272.4 H1143 M592 268.8 H598 M1149 268.8 H1143 M592 265.8 H598 M1149 265.8 H1143 M592 263.2 H598 M1149 263.2 H1143 M592 260.9 H598 M1149 260.9 H1143 M588 258.8 H598 M1149 258.8 H1139 M592 245.3 H598 M1149 245.3 H1143 M592 237.3 H598 M1149 237.3 H1143 M592 231.7 H598 M1149 231.7 H1143 M592 227.3 H598 M1149 227.3 H1143 M592 223.7 H598 M1149 223.7 H1143 M592 220.7 H598 M1149 220.7 H1143 M592 218.1 H598 M1149 218.1 H1143 M592 215.8 H598 M1149 215.8 H1143 M588 213.7 H598 M1149 213.7 H1139 M592 200.1 H598 M1149 200.1 H1143 M592 192.2 H598 M1149 192.2 H1143 M592 186.6 H598 M1149 186.6 H1143 M592 182.2 H598 M1149 182.2 H1143 M592 178.6 H598 M1149 178.6 H1143 M592 175.6 H598 M1149 175.6 H1143 M592 173.0 H598 M1149 173.0 H1143 M592 170.7 H598 M1149 170.7 H1143 M588 168.6 H598 M1149 168.6 H1139 M592 155.0 H598 M1149 155.0 H1143 M592 147.1 H598 M1149 147.1 H1143 M592 141.5 H598 M1149 141.5 H1143 M592 137.1 H598 M1149 137.1 H1143 M592 133.5 H598 M1149 133.5 H1143 M592 130.5 H598 M1149 130.5 H1143 M592 127.9 H598 M1149 127.9 H1143 M592 125.6 H598 M1149 125.6 H1143 M588 123.5 H598 M1149 123.5 H1139 M598.5 484 V494 M598.5 124 V133 M644.4 484 V491 M644.4 124 V129 M690.3 484 V494 M690.3 124 V133 M736.2 484 V491 M736.2 124 V129 M782.2 484 V494 M782.2 124 V133 M828.1 484 V491 M828.1 124 V129 M874.0 484 V494 M874.0 124 V133 M919.9 484 V491 M919.9 124 V129 M965.8 484 V494 M965.8 124 V133 M1011.8 484 V491 M1011.8 124 V129 M1057.7 484 V494 M1057.7 124 V133 M1103.6 484 V491 M1103.6 124 V129 M1149.5 484 V494 M1149.5 124 V133" stroke="#000" stroke-width="5" fill="none"/>
<text transform="translate(599.5 519) scale(1.05 1)" text-anchor="middle" font-family='"Liberation Serif", "Times New Roman", serif' font-weight="bold" font-size="33.5">0.0</text>
<text transform="translate(691.3 519) scale(1.05 1)" text-anchor="middle" font-family='"Liberation Serif", "Times New Roman", serif' font-weight="bold" font-size="33.5">0.2</text>
<text transform="translate(783.2 519) scale(1.05 1)" text-anchor="middle" font-family='"Liberation Serif", "Times New Roman", serif' font-weight="bold" font-size="33.5">0.4</text>
<text transform="translate(875.0 519) scale(1.05 1)" text-anchor="middle" font-family='"Liberation Serif", "Times New Roman", serif' font-weight="bold" font-size="33.5">0.6</text>
<text transform="translate(966.8 519) scale(1.05 1)" text-anchor="middle" font-family='"Liberation Serif", "Times New Roman", serif' font-weight="bold" font-size="33.5">0.8</text>
<text transform="translate(1058.7 519) scale(1.05 1)" text-anchor="middle" font-family='"Liberation Serif", "Times New Roman", serif' font-weight="bold" font-size="33.5">1.0</text>
<text transform="translate(1150.5 519) scale(1.05 1)" text-anchor="middle" font-family='"Liberation Serif", "Times New Roman", serif' font-weight="bold" font-size="33.5">1.2</text>
<text transform="translate(586.5 496.0) scale(1.1 1)" text-anchor="end" font-family='"Liberation Serif", "Times New Roman", serif' font-weight="bold" font-size="32.5">10<tspan dx="-3" dy="-15.5" font-size="19">7</tspan></text>
<text transform="translate(586.5 450.9) scale(1.1 1)" text-anchor="end" font-family='"Liberation Serif", "Times New Roman", serif' font-weight="bold" font-size="32.5">10<tspan dx="-3" dy="-15.5" font-size="19">8</tspan></text>
<text transform="translate(586.5 405.8) scale(1.1 1)" text-anchor="end" font-family='"Liberation Serif", "Times New Roman", serif' font-weight="bold" font-size="32.5">10<tspan dx="-3" dy="-15.5" font-size="19">9</tspan></text>
<text transform="translate(586.5 360.7) scale(1.1 1)" text-anchor="end" font-family='"Liberation Serif", "Times New Roman", serif' font-weight="bold" font-size="32.5">10<tspan dx="-3" dy="-15.5" font-size="19">10</tspan></text>
<text transform="translate(586.5 315.6) scale(1.1 1)" text-anchor="end" font-family='"Liberation Serif", "Times New Roman", serif' font-weight="bold" font-size="32.5">10<tspan dx="-3" dy="-15.5" font-size="19">11</tspan></text>
<text transform="translate(586.5 270.4) scale(1.1 1)" text-anchor="end" font-family='"Liberation Serif", "Times New Roman", serif' font-weight="bold" font-size="32.5">10<tspan dx="-3" dy="-15.5" font-size="19">12</tspan></text>
<text transform="translate(586.5 225.3) scale(1.1 1)" text-anchor="end" font-family='"Liberation Serif", "Times New Roman", serif' font-weight="bold" font-size="32.5">10<tspan dx="-3" dy="-15.5" font-size="19">13</tspan></text>
<text transform="translate(586.5 180.2) scale(1.1 1)" text-anchor="end" font-family='"Liberation Serif", "Times New Roman", serif' font-weight="bold" font-size="32.5">10<tspan dx="-3" dy="-15.5" font-size="19">14</tspan></text>
<text transform="translate(586.5 135.1) scale(1.1 1)" text-anchor="end" font-family='"Liberation Serif", "Times New Roman", serif' font-weight="bold" font-size="32.5">10<tspan dx="-3" dy="-15.5" font-size="19">15</tspan></text>
<text transform="translate(761.5 565) scale(0.971 1)" font-family='"Liberation Serif", "Times New Roman", serif' font-weight="bold" font-size="45">Energy (eV)</text>
<text transform="translate(507.8 559) rotate(-90)" font-family='"Liberation Serif", "Times New Roman", serif' font-weight="bold" font-size="49.5" textLength="351" lengthAdjust="spacingAndGlyphs">Density of States (eV</text>
<text transform="translate(483.6 208) rotate(-90)" font-family='"Liberation Serif", "Times New Roman", serif' font-weight="bold" font-size="30" textLength="17" lengthAdjust="spacingAndGlyphs">-1</text>
<text transform="translate(507.8 190) rotate(-90)" font-family='"Liberation Serif", "Times New Roman", serif' font-weight="bold" font-size="49.5" textLength="51" lengthAdjust="spacingAndGlyphs">cm</text>
<text transform="translate(483.6 140) rotate(-90)" font-family='"Liberation Serif", "Times New Roman", serif' font-weight="bold" font-size="30" textLength="17" lengthAdjust="spacingAndGlyphs">-3</text>
<text transform="translate(507.8 123) rotate(-90)" font-family='"Liberation Serif", "Times New Roman", serif' font-weight="bold" font-size="49.5" textLength="16" lengthAdjust="spacingAndGlyphs">)</text>
<path d="M1381.0 393.0 L1375.8 291.9" stroke="#000" stroke-width="10"/>
<path d="M1373.0 238.0 L1391.9 293.1 L1359.9 294.8 Z" fill="#000"/>
<path d="M1482.7 431.2 L1506.8 466.9" stroke="#000" stroke-width="10"/>
<path d="M1537.0 511.7 L1492.4 474.2 L1518.9 456.3 Z" fill="#000"/>
<path d="M1357.0 675.0 L1429.4 705.0" stroke="#000" stroke-width="10"/>
<path d="M1483.0 727.2 L1421.8 718.1 L1433.3 690.4 Z" fill="#000"/>
<path d="M778.6 782.0 L757.8 827.5" stroke="#000" stroke-width="10"/>
<path d="M735.3 876.6 L744.1 819.0 L773.2 832.3 Z" fill="#000"/>
<text transform="translate(1215.5 167) scale(1.039 1)" font-family='"Liberation Serif", "Times New Roman", serif' font-weight="bold" font-size="62">optimized a-Si / Poly-Si</text>
<text transform="translate(1214.5 240) scale(1.048 1)" font-family='"Liberation Serif", "Times New Roman", serif' font-weight="bold" font-size="62">GR=0.75</text>
<text transform="translate(1439 552) scale(1.04 1)" font-family='"Liberation Serif", "Times New Roman", serif' font-weight="bold" font-size="62">a-Si / Poly-Si</text>
<text transform="translate(1437.5 624.3) scale(1.055 1)" font-family='"Liberation Serif", "Times New Roman", serif' font-weight="bold" font-size="62">GR=0.5</text>
<text transform="translate(1362.5 808) scale(1.028 1)" font-family='"Liberation Serif", "Times New Roman", serif' font-weight="bold" font-size="62">&#956;c-Si / Poly-Si</text>
<text transform="translate(1359.5 881) scale(1.046 1)" font-family='"Liberation Serif", "Times New Roman", serif' font-weight="bold" font-size="62">GR=0.8</text>
<text transform="translate(535 773) scale(1.034 1)" font-family='"Liberation Serif", "Times New Roman", serif' font-weight="bold" font-size="62">pristine Poly-Si</text>
</svg></body></html>
